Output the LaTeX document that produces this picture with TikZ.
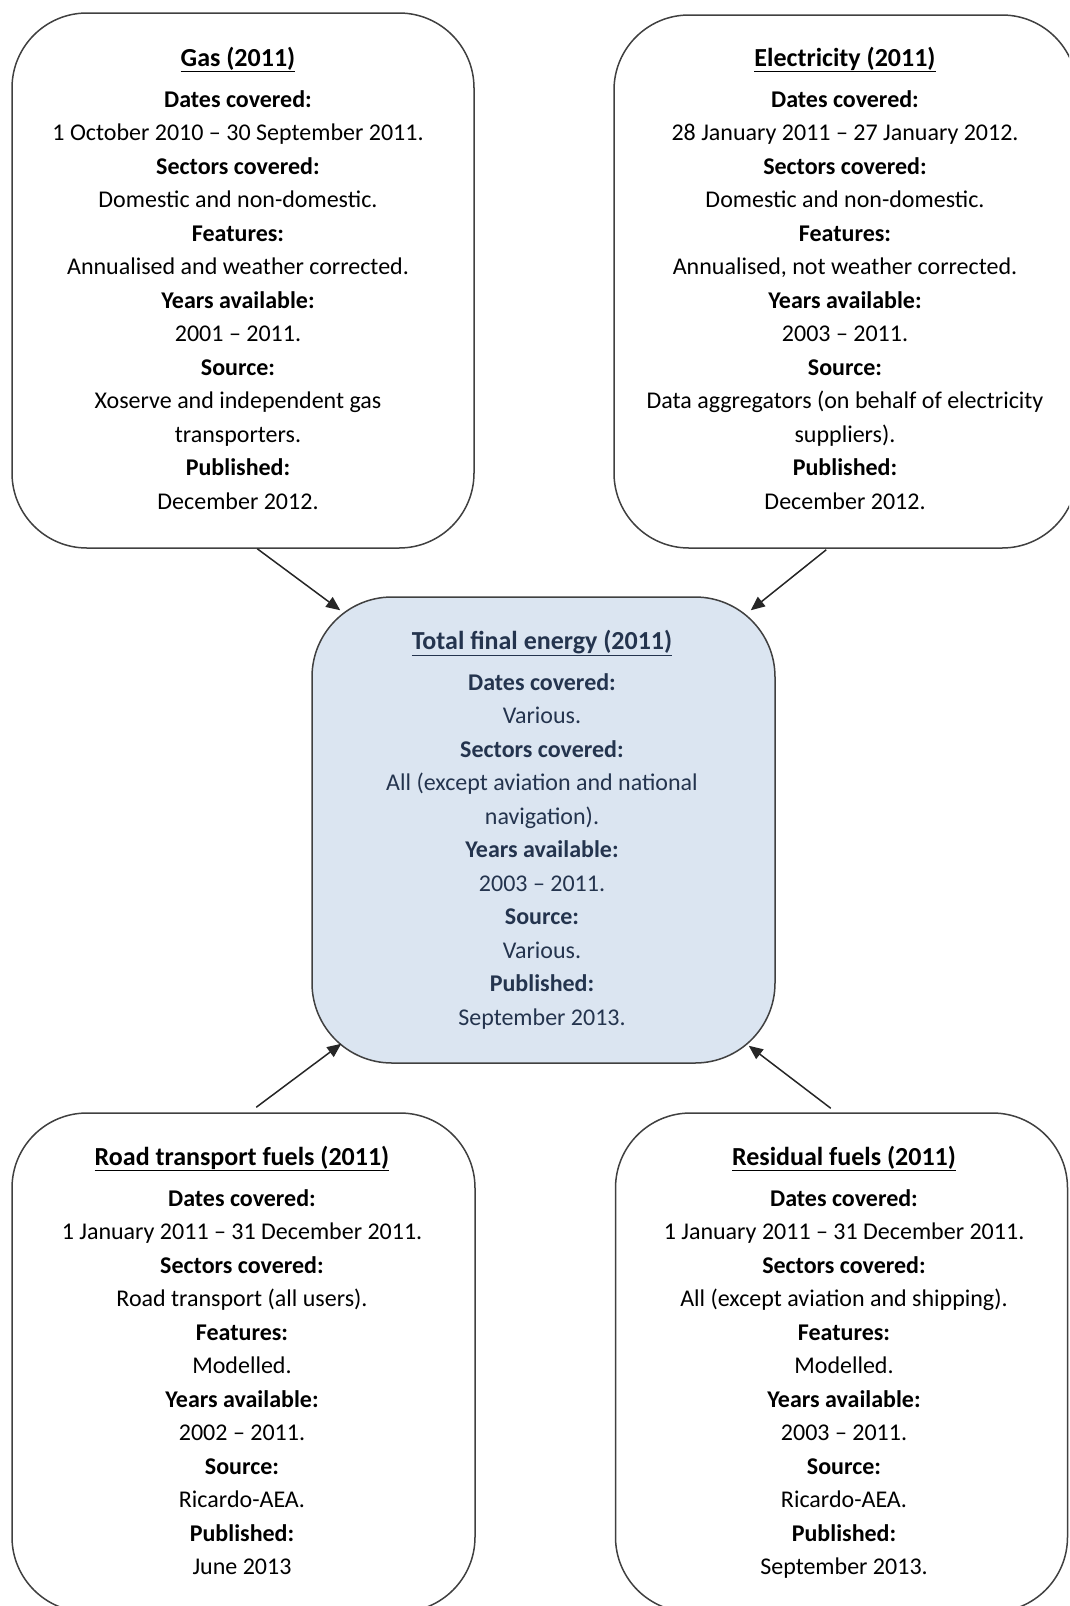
\documentclass[tikz,border=0pt]{standalone}
\usepackage{fontspec}
\setmainfont{Carlito}
\usetikzlibrary{arrows.meta,calc}
\definecolor{boxfill}{HTML}{DBE5F1}
\definecolor{boxline}{HTML}{404040}
\definecolor{navytext}{HTML}{24344E}
\newcommand{\boxtitle}[1]{{\fontsize{26}{33.5}\selectfont\underline{\textbf{#1}}}}
\begin{document}
\begin{tikzpicture}[x=1pt,y=-1pt,
  infobox/.style={draw=boxline, line width=1.5pt, rounded corners=75pt, inner sep=0pt},
  centerbox/.style={infobox, fill=boxfill, rounded corners=80pt},
  boxtext/.style={align=center, anchor=north, inner sep=0pt, font=\fontsize{24}{33.5}\selectfont},
  arr/.style={draw=black!85, line width=1.5pt, -{Triangle[length=14pt,width=12pt]}}]
\useasboundingbox (0,0) rectangle (1069,1606);
\clip (0,0) rectangle (1069,1606);
% boxes
\node[infobox, minimum width=462pt, minimum height=535pt] (gas) at (243,280.5) {};
\node[infobox, minimum width=463pt, minimum height=533pt] (elec) at (845.5,281.5) {};
\node[centerbox, minimum width=463pt, minimum height=466pt] (tfe) at (543.5,830) {};
\node[infobox, minimum width=463pt, minimum height=499pt] (road) at (243.5,1362.5) {};
\node[infobox, minimum width=452pt, minimum height=499pt] (resid) at (841.5,1362.5) {};
% texts
\node[boxtext] (gastxt) at (238,46.5) {\boxtitle{Gas (2011)}\\[7.5pt]
\textbf{Dates covered:}\\
1 October 2010 – 30 September 2011.\\
\textbf{Sectors covered:}\\
Domestic and non-domestic.\\
\textbf{Features:}\\
Annualised and weather corrected.\\
\textbf{Years available:}\\
2001 – 2011.\\
\textbf{Source:}\\
Xoserve and independent gas\\
transporters.\\
\textbf{Published:}\\
December 2012.};
\node[boxtext] (electxt) at (845,46.5) {\boxtitle{Electricity (2011)}\\[7.5pt]
\textbf{Dates covered:}\\
28 January 2011 – 27 January 2012.\\
\textbf{Sectors covered:}\\
Domestic and non-domestic.\\
\textbf{Features:}\\
Annualised, not weather corrected.\\
\textbf{Years available:}\\
2003 – 2011.\\
\textbf{Source:}\\
Data aggregators (on behalf of electricity\\
suppliers).\\
\textbf{Published:}\\
December 2012.};
\node[boxtext, text=navytext] (tfetxt) at (542,629.5) {\boxtitle{Total final energy (2011)}\\[7.5pt]
\textbf{Dates covered:}\\
Various.\\
\textbf{Sectors covered:}\\
All (except aviation and national\\
navigation).\\
\textbf{Years available:}\\
2003 – 2011.\\
\textbf{Source:}\\
Various.\\
\textbf{Published:}\\
September 2013.};
\node[boxtext] (roadtxt) at (242,1145.5) {\boxtitle{Road transport fuels (2011)}\\[7.5pt]
\textbf{Dates covered:}\\
1 January 2011 – 31 December 2011.\\
\textbf{Sectors covered:}\\
Road transport (all users).\\
\textbf{Features:}\\
Modelled.\\
\textbf{Years available:}\\
2002 – 2011.\\
\textbf{Source:}\\
Ricardo-AEA.\\
\textbf{Published:}\\
June 2013};
\node[boxtext] (residtxt) at (844,1145.5) {\boxtitle{Residual fuels (2011)}\\[7.5pt]
\textbf{Dates covered:}\\
1 January 2011 – 31 December 2011.\\
\textbf{Sectors covered:}\\
All (except aviation and shipping).\\
\textbf{Features:}\\
Modelled.\\
\textbf{Years available:}\\
2003 – 2011.\\
\textbf{Source:}\\
Ricardo-AEA.\\
\textbf{Published:}\\
September 2013.};
% arrows
\draw[arr] ($(gas.south west)+(246,0)$) -- ($(tfe.north west)+(29,14)$);
\draw[arr] ($(elec.south west)+(213,1)$) -- ($(tfe.north east)+(-25,14)$);
\draw[arr] ($(road.north west)+(245,-5)$) -- ($(tfe.south west)+(30,-20)$);
\draw[arr] ($(resid.north west)+(216,-4)$) -- ($(tfe.south east)+(-27,-18)$);
\end{tikzpicture}
\end{document}
